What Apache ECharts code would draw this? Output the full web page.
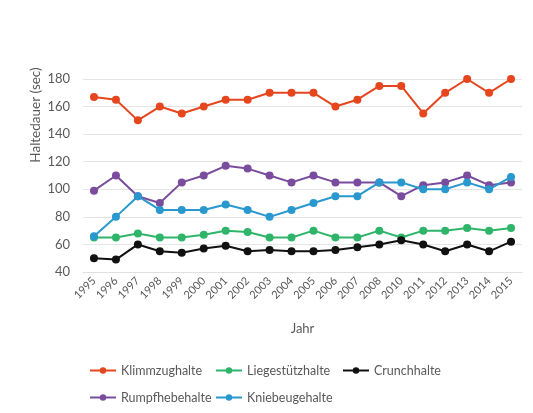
<!DOCTYPE html>
<html>
<head>
<meta charset="utf-8">
<script src="https://cdn.jsdelivr.net/npm/echarts@6/dist/echarts.min.js"></script>
<style>
  html, body { margin: 0; padding: 0; background: #fff; }
  #chart { width: 533px; height: 413px; }
</style>
</head>
<body>
<div id="chart"></div>
<script>
const years = ['1995', '1996', '1997', '1998', '1999', '2000', '2001', '2002', '2003', '2004',
    '2005', '2006', '2007', '2008', '2010', '2011', '2012', '2013', '2014', '2015'];
const klimmzug = [167, 165, 150, 160, 155, 160, 165, 165, 170, 170, 170, 160, 165, 175, 175, 155, 170, 180, 170, 180];
const liegestuetz = [65, 65, 68, 65, 65, 67, 70, 69, 65, 65, 70, 65, 65, 70, 65, 70, 70, 72, 70, 72];
const crunch = [50, 49, 60, 55, 54, 57, 59, 55, 56, 55, 55, 56, 58, 60, 63, 60, 55, 60, 55, 62];
const rumpfhebe = [99, 110, 95, 90, 105, 110, 117, 115, 110, 105, 110, 105, 105, 105, 95, 103, 105, 110, 103, 105];
const kniebeuge = [66, 80, 95, 85, 85, 85, 89, 85, 80, 85, 90, 95, 95, 105, 105, 100, 100, 105, 100, 109];
const yTicks = [40, 60, 80, 100, 120, 140, 160, 180];

const font = 'Lato, "Open Sans", sans-serif';
const grey = '#595959';

const seriesDefs = [
    {name: 'Klimmzughalte', data: klimmzug, color: '#E5461E'},
    {name: 'Liegestützhalte', data: liegestuetz, color: '#2FB56A'},
    {name: 'Crunchhalte', data: crunch, color: '#111111'},
    {name: 'Rumpfhebehalte', data: rumpfhebe, color: '#7A4C9E'},
    {name: 'Kniebeugehalte', data: kniebeuge, color: '#2898CE'}
];
// Excel-like legend in fixed columns
const legendPos = [[89, 364], [215, 364], [342, 364], [89, 391], [215, 391]];

const chart = echarts.init(document.getElementById('chart'));
chart.setOption({
    backgroundColor: '#fff',
    animation: false,
    textStyle: {fontFamily: font},
    grid: {left: 83, right: 11, top: 79, bottom: 141},
    legend: seriesDefs.map((s, i) => ({
        data: [s.name],
        left: legendPos[i][0],
        top: legendPos[i][1],
        itemWidth: 26,
        itemHeight: 8,
        itemGap: 0,
        padding: 0,
        textStyle: {color: grey, fontSize: 12.5, fontFamily: font}
    })),
    graphic: [{
        type: 'text',
        x: 36,
        y: 115,
        rotation: Math.PI / 2,
        style: {
            text: 'Haltedauer (sec)',
            fill: grey,
            font: '13.5px ' + font,
            align: 'center',
            verticalAlign: 'middle'
        }
    }],
    xAxis: {
        type: 'category',
        data: years,
        boundaryGap: true,
        name: 'Jahr',
        nameLocation: 'middle',
        nameGap: 50,
        nameTextStyle: {color: grey, fontSize: 13},
        axisLine: {lineStyle: {color: '#e0e0e0'}},
        axisTick: {show: false},
        axisLabel: {color: grey, fontSize: 11, rotate: 45, interval: 0, margin: 7}
    },
    yAxis: {
        type: 'value',
        min: yTicks[0],
        max: yTicks[yTicks.length - 1],
        interval: 20,
        axisLine: {show: false},
        axisTick: {show: false},
        axisLabel: {color: grey, fontSize: 13, margin: 13},
        splitLine: {lineStyle: {color: '#e4e4e4'}}
    },
    series: seriesDefs.map(s => ({
        name: s.name,
        type: 'line',
        data: s.data,
        symbol: 'circle',
        symbolSize: 8,
        color: s.color,
        lineStyle: {width: 2, color: s.color},
        itemStyle: {color: s.color}
    }))
});
</script>
</body>
</html>
